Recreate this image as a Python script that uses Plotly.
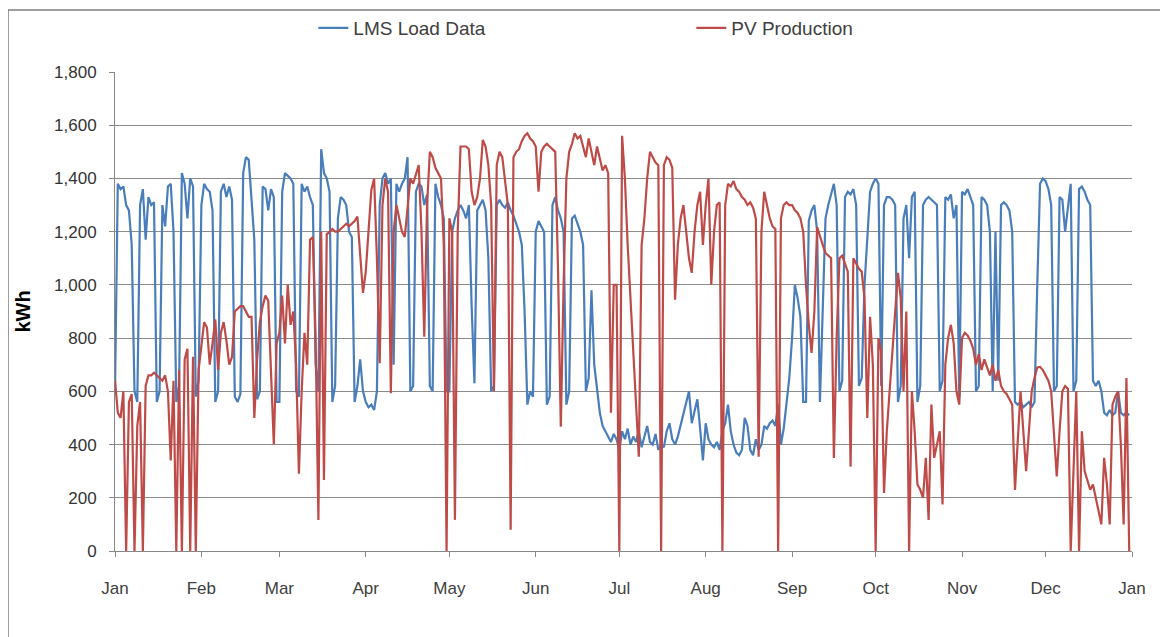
import pandas as pd
import plotly.graph_objects as go

# ---------------- data (daily kWh) ----------------
load_jan = [600,1380,1360,1370,1300,1280,1150,600,560,1300,1360,1170,1330,1300,1310,560,600,1300,1220,1370,1380,1200,560,620,1420,1380,1250,1400,1370,580,640]
load_feb = [1300,1380,1360,1350,1280,560,600,1350,1380,1330,1370,1320,580,560,590,1420,1480,1470,1300,1170,570,600,1370,1360,1280,1360,1330,560]
load_mar = [560,1350,1420,1410,1400,1380,600,580,1380,1350,1370,1330,1300,700,600,1510,1420,1400,1350,560,620,1250,1330,1320,1300,1200,1180,560,620,720,600]
load_apr = [560,540,550,530,600,1300,1400,1420,1380,1400,700,1380,1350,1380,1400,1480,600,620,1350,1380,1370,1300,1340,620,600,1380,1330,1300,1250,600]
load_may = [600,1200,1250,1280,1300,1280,1250,1300,920,630,1280,1300,1320,1280,1100,600,620,1300,1320,1300,1290,1310,1280,1260,1230,1200,1150,900,550,600,580]
load_jun = [1200,1240,1220,1200,550,580,1300,1330,1280,1250,1200,550,600,1250,1260,1230,1200,1150,600,650,980,700,600,520,470,450,430,410,440,420]
load_jul = [380,450,420,460,400,430,410,450,390,430,470,410,400,440,380,400,390,450,480,420,400,430,470,520,560,600,480,520,570,460,340]
load_aug = [480,420,400,390,410,380,450,480,550,450,400,370,360,380,500,470,380,360,420,380,400,470,460,480,490,470,550,400,460,560,650]
load_sep = [800,1000,950,880,560,560,1240,1280,1300,1200,560,900,1250,1300,1340,1380,1300,600,640,1330,1350,1340,1360,1300,620,650,1000,1200,1350,1380]
load_oct = [1400,1380,620,1300,1330,1330,1320,1300,560,620,1250,1300,1100,1330,1350,560,620,1300,1320,1330,1320,1310,1300,600,640,1330,1320,1340,1250,1300,580]
load_nov = [1350,1340,1360,1330,1300,600,620,1330,1320,1300,1200,600,1200,640,1300,1310,1300,1280,1200,560,550,560,540,550,560,540,560,1000,1380,1400]
load_dec = [1390,1360,1300,600,620,1330,1320,1200,1300,1380,600,640,1360,1370,1350,1320,1300,640,620,640,600,520,510,530,510,520,600,520,510,520,510]

pv_jan = [640,520,500,600,0,560,590,0,470,560,0,620,660,660,670,660,650,640,660,600,340,640,0,680,0,720,760,0,730,0,680]
pv_feb = [780,860,840,700,780,870,680,820,860,790,700,730,900,910,920,920,900,880,880,500,720,860,920,960,940,700,400,780]
pv_mar = [820,960,780,1000,850,900,700,290,600,820,700,1170,1180,800,117,1200,267,1190,1200,1210,1200,1200,1210,1220,1230,1220,1230,1240,1257,1100,970]
pv_apr = [1050,1200,1357,1400,1100,706,1300,1400,1350,593,1200,1300,1250,1200,1180,1300,1400,1380,1420,1450,1200,805,1300,1500,1480,1440,1420,1400,1150,0]
pv_may = [1250,1200,117,1200,1520,1520,1520,1510,1350,1300,1330,1400,1545,1520,1450,1300,600,1450,1500,1480,1400,1300,80,1480,1500,1510,1540,1560,1570,1550,1540]
pv_jun = [1520,1350,1500,1520,1530,1520,1510,1500,1057,467,1000,1400,1500,1530,1570,1550,1560,1520,1480,1550,1500,1450,1520,1480,1430,1450,1420,520,1000,1000]
pv_jul = [0,1560,1400,1150,950,750,550,354,1150,1250,1400,1500,1480,1460,1450,0,1450,1480,1470,1440,944,1150,1250,1300,1200,1100,1045,1200,1300,1350,1150]
pv_aug = [1300,1400,1000,1200,1300,1310,0,1300,1380,1370,1390,1360,1350,1330,1320,1300,1310,1290,1250,354,1200,1350,1300,1250,1220,1210,0,1250,1300,1310,1300]
pv_sep = [1300,1280,1270,1250,1200,1000,850,744,900,1217,1180,1150,1120,1110,1100,350,800,1100,1110,1080,1050,317,1100,1080,1060,1050,950,500,880,700]
pv_oct = [0,800,750,218,450,600,750,900,1045,950,600,900,0,600,450,250,230,200,350,117,550,350,400,450,175,700,800,850,780,600,550]
pv_nov = [800,820,810,790,760,700,740,680,720,690,660,700,640,680,620,600,590,570,550,229,420,600,450,300,450,600,650,690,692,680]
pv_dec = [660,640,600,450,280,450,600,620,610,0,300,600,0,450,300,260,230,250,200,150,100,350,250,100,550,580,600,400,100,650,0]

month_labels = ["Jan", "Feb", "Mar", "Apr", "May", "Jun", "Jul", "Aug", "Sep", "Oct", "Nov", "Dec", "Jan"]
series_names = ["LMS Load Data", "PV Production"]
y_ticks = [0, 200, 400, 600, 800, 1000, 1200, 1400, 1600, 1800]

# ---------------- build ----------------
load = (load_jan + load_feb + load_mar + load_apr + load_may + load_jun +
        load_jul + load_aug + load_sep + load_oct + load_nov + load_dec)
pv = (pv_jan + pv_feb + pv_mar + pv_apr + pv_may + pv_jun +
      pv_jul + pv_aug + pv_sep + pv_oct + pv_nov + pv_dec)
dates = pd.date_range("2010-01-01", periods=len(load), freq="D")
month_ticks = pd.date_range("2010-01-01", "2011-01-01", freq="MS")

FONT = "Liberation Sans, Arial, sans-serif"
BLUE = "#4A7EBB"
RED = "#BE4B48"

W, H = 1160, 629
L, R, T, B = 107, 36, 64, 86
PW, PH = W - L - R, H - T - B

fig = go.Figure()
fig.add_trace(go.Scatter(x=dates, y=load, mode="lines", name=series_names[0],
                         line=dict(color=BLUE, width=2.2)))
fig.add_trace(go.Scatter(x=dates, y=pv, mode="lines", name=series_names[1],
                         line=dict(color=RED, width=2.2)))

fig.update_layout(
    width=W, height=H,
    margin=dict(l=L, r=R, t=T, b=B, autoexpand=False),
    paper_bgcolor="white", plot_bgcolor="white",
    font=dict(family=FONT, color="#404040"),
    showlegend=True,
    legend=dict(orientation="h", x=0.195, xanchor="left", y=1.092, yanchor="middle",
                font=dict(size=19, color="#404040", family=FONT),
                entrywidth=333, entrywidthmode="pixels", bgcolor="rgba(0,0,0,0)"),
    xaxis=dict(
        type="date",
        range=[month_ticks[0], month_ticks[-1]],
        tickmode="array", tickvals=list(month_ticks), ticktext=month_labels,
        ticks="outside", ticklen=5, tickcolor="#888888",
        showline=True, linecolor="#888888", linewidth=1,
        showgrid=False, zeroline=False,
        tickfont=dict(size=17, color="#404040", family=FONT),
        ticklabelstandoff=17,
    ),
    yaxis=dict(
        range=[0, 1800], tickmode="array", tickvals=y_ticks,
        tickformat=",", ticks="outside", ticklen=5, tickcolor="#888888",
        showline=True, linecolor="#888888", linewidth=1,
        showgrid=True, gridcolor="#8c8c8c", gridwidth=1, zeroline=False,
        tickfont=dict(size=17, color="#333333", family=FONT),
        ticklabelstandoff=9,
        title=dict(text="<b>kWh</b>", font=dict(size=20, color="#000000", family=FONT),
                   standoff=18),
    ),
    shapes=[dict(type="rect", xref="paper", yref="paper",
                 x0=(0 - L) / PW, x1=(W + 40 - L) / PW,
                 y0=(PH - (H + 40 - T)) / PH, y1=(PH - (2 - T)) / PH,
                 line=dict(color="#7f7f7f", width=1.5), fillcolor="rgba(0,0,0,0)", layer="below")],
)

fig.write_html("out.html")
